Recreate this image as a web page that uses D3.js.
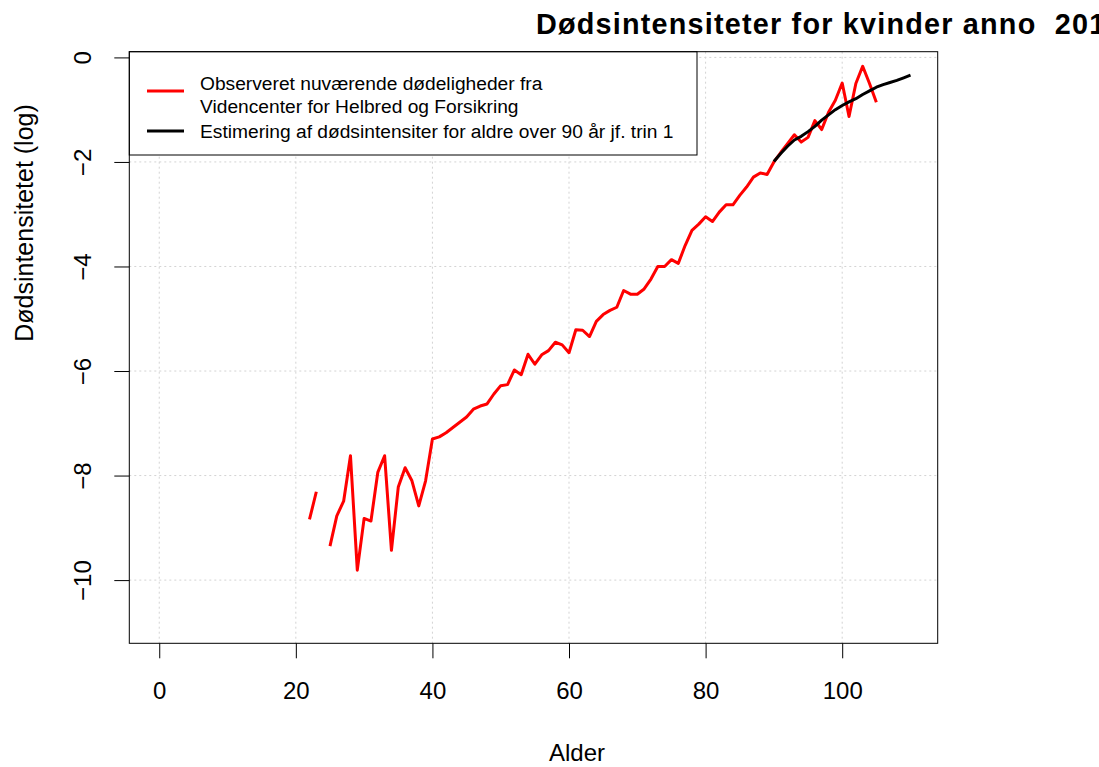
<!DOCTYPE html>
<html>
<head>
<meta charset="utf-8">
<script src="https://cdn.jsdelivr.net/npm/d3@7"></script>
<style>
  body { margin: 0; background: #fff; overflow: hidden; }
  svg { display: block; font-family: "Liberation Sans", Arial, sans-serif; }
</style>
</head>
<body>
<div id="chart"></div>
<script>
// observed log mortality (red), ages 22..105, age 24 missing
var obsAge = [22, 23, 24, 25, 26, 27, 28, 29, 30, 31, 32, 33, 34, 35, 36, 37, 38, 39, 40,
  41, 42, 43, 44, 45, 46, 47, 48, 49, 50, 51, 52, 53, 54, 55, 56, 57, 58, 59, 60,
  61, 62, 63, 64, 65, 66, 67, 68, 69, 70, 71, 72, 73, 74, 75, 76, 77, 78, 79, 80,
  81, 82, 83, 84, 85, 86, 87, 88, 89, 90, 91, 92, 93, 94, 95, 96, 97, 98, 99, 100,
  101, 102, 103, 104, 105];
var obsLogMu = [-8.84, -8.31, null, -9.35, -8.77, -8.49, -7.62, -9.81, -8.82, -8.87, -7.94, -7.62, -9.43, -8.22, -7.85, -8.10, -8.58, -8.10, -7.30,
  -7.26, -7.18, -7.08, -6.98, -6.88, -6.73, -6.67, -6.63, -6.44, -6.28, -6.26, -5.98, -6.07, -5.68, -5.87, -5.69, -5.61, -5.45, -5.50, -5.65,
  -5.21, -5.22, -5.34, -5.05, -4.92, -4.84, -4.78, -4.46, -4.53, -4.53, -4.43, -4.24, -4.00, -4.00, -3.87, -3.94, -3.60, -3.31, -3.19, -3.05,
  -3.14, -2.96, -2.82, -2.82, -2.64, -2.48, -2.29, -2.21, -2.24, -2.00, -1.82, -1.65, -1.48, -1.62, -1.53, -1.21, -1.38, -1.05, -0.82, -0.49,
  -1.13, -0.50, -0.17, -0.50, -0.86];

// estimated log mortality (black), ages 90..110
var estAge = [90, 91, 92, 93, 94, 95, 96, 97, 98, 99, 100, 101, 102, 103, 104, 105, 106, 107, 108, 109, 110];
var estLogMu = [-1.99, -1.84, -1.70, -1.58, -1.51, -1.42, -1.32, -1.20, -1.10, -1.00, -0.92,
  -0.85, -0.79, -0.71, -0.64, -0.57, -0.52, -0.48, -0.44, -0.39, -0.34];

var xTicks = [0, 20, 40, 60, 80, 100];
var yTicks = [0, -2, -4, -6, -8, -10];
var xLim = [0, 109.6];
var yLim = [-10.79, -0.31];

var legendLabels = ["Observeret nuværende dødeligheder fra\nVidencenter for Helbred og Forsikring",
  "Estimering af dødsintensiter for aldre over 90 år jf. trin 1"];
var legendColors = ["#ff0000", "#000000"];

var width = 1099, height = 767;
var plot = {left: 129.3, right: 937.7, top: 51.7, bottom: 643.3};

// R style 4% axis padding
function pad(lim) {
  var r = lim[1] - lim[0];
  return [lim[0] - 0.04 * r, lim[1] + 0.04 * r];
}

var x = d3.scaleLinear().domain(pad(xLim)).range([plot.left, plot.right]);
var y = d3.scaleLinear().domain(pad(yLim)).range([plot.bottom, plot.top]);

var svg = d3.select("#chart").append("svg")
    .attr("width", width)
    .attr("height", height);

// grid
svg.append("g").selectAll("line")
    .data(xTicks)
  .enter().append("line")
    .attr("x1", function(d) { return x(d); })
    .attr("x2", function(d) { return x(d); })
    .attr("y1", plot.top)
    .attr("y2", plot.bottom)
    .style("stroke", "#d3d3d3")
    .style("stroke-dasharray", "2,3");
svg.append("g").selectAll("line")
    .data(yTicks)
  .enter().append("line")
    .attr("x1", plot.left)
    .attr("x2", plot.right)
    .attr("y1", function(d) { return y(d); })
    .attr("y2", function(d) { return y(d); })
    .style("stroke", "#d3d3d3")
    .style("stroke-dasharray", "2,3");

// lines
var obsData = obsAge.map(function(a, i) { return [a, obsLogMu[i]]; });
var estData = estAge.map(function(a, i) { return [a, estLogMu[i]]; });

var line = d3.line()
    .defined(function(d) { return d[1] !== null; })
    .x(function(d) { return x(d[0]); })
    .y(function(d) { return y(d[1]); });

svg.append("path")
    .datum(obsData)
    .attr("d", line)
    .style("fill", "none")
    .style("stroke", legendColors[0])
    .style("stroke-width", 3)
    .style("stroke-linejoin", "round");
svg.append("path")
    .datum(estData)
    .attr("d", line)
    .style("fill", "none")
    .style("stroke", legendColors[1])
    .style("stroke-width", 3)
    .style("stroke-linejoin", "round");

// axes (R look: ticks outside, labels 24px)
var xAxis = svg.append("g")
    .attr("transform", "translate(0," + plot.bottom + ")")
    .call(d3.axisBottom(x).tickValues(xTicks).tickSize(15).tickPadding(24).tickSizeOuter(0));
xAxis.select(".domain").remove();
xAxis.selectAll("line").style("stroke", "#000");
xAxis.selectAll("text")
    .style("font-size", "24px")
    .style("font-family", "Liberation Sans, Arial, sans-serif")
    .style("fill", "#000");

var yAxis = svg.append("g")
    .attr("transform", "translate(" + plot.left + ",0)")
    .call(d3.axisLeft(y).tickValues(yTicks).tickSize(15).tickSizeOuter(0));
yAxis.select(".domain").remove();
yAxis.selectAll("line").style("stroke", "#000");
yAxis.selectAll("text")
    .attr("x", null)
    .attr("dy", null)
    .attr("text-anchor", "middle")
    .attr("transform", "translate(-38,0) rotate(-90)")
    .style("font-size", "24px")
    .style("font-family", "Liberation Sans, Arial, sans-serif")
    .style("fill", "#000");

// legend box (drawn over the grid)
var legend = svg.append("g");
legend.append("rect")
    .attr("x", plot.left)
    .attr("y", plot.top)
    .attr("width", 697 - plot.left)
    .attr("height", 155 - plot.top)
    .style("fill", "#fff")
    .style("stroke", "#000");
var legendY = [91, 131];
legend.selectAll(".key")
    .data(legendColors)
  .enter().append("line")
    .attr("x1", 147)
    .attr("x2", 184)
    .attr("y1", function(d, i) { return legendY[i]; })
    .attr("y2", function(d, i) { return legendY[i]; })
    .style("stroke", function(d) { return d; })
    .style("stroke-width", 3);
var textRows = [];
legendLabels.forEach(function(l) { l.split("\n").forEach(function(t) { textRows.push(t); }); });
var textY = [90, 113, 138];
legend.selectAll("text")
    .data(textRows)
  .enter().append("text")
    .attr("x", 200)
    .attr("y", function(d, i) { return textY[i]; })
    .style("font-size", "19.2px")
    .text(function(d) { return d; });

// plot frame
svg.append("rect")
    .attr("x", plot.left)
    .attr("y", plot.top)
    .attr("width", plot.right - plot.left)
    .attr("height", plot.bottom - plot.top)
    .style("fill", "none")
    .style("stroke", "#000");

// titles (the main title runs past the right edge, as in the original)
svg.append("text")
    .attr("x", 536)
    .attr("y", 34)
    .style("font-size", "28.8px")
    .style("font-weight", "bold")
    .style("letter-spacing", "1.2px")
    .style("white-space", "pre")
    .text("Dødsintensiteter for kvinder anno  2011");

svg.append("text")
    .attr("x", 577)
    .attr("y", 761)
    .attr("text-anchor", "middle")
    .style("font-size", "24px")
    .text("Alder");

svg.append("text")
    .attr("transform", "translate(33,223) rotate(-90)")
    .attr("text-anchor", "middle")
    .style("font-size", "25px")
    .text("Dødsintensitetet (log)");
</script>
</body>
</html>
